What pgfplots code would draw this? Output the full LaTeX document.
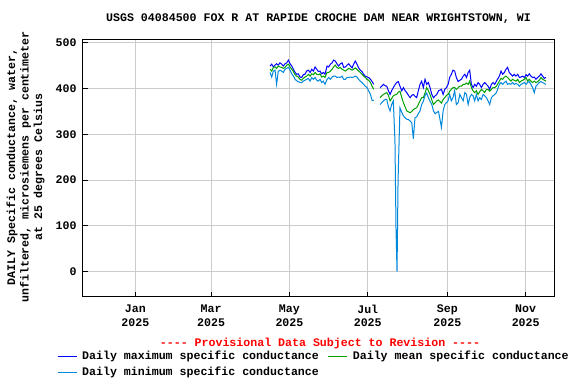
\documentclass[border=0pt]{standalone}
\usepackage{fontspec}
\setmonofont{Liberation Mono}
\usepackage{pgfplots}
\pgfplotsset{compat=1.18}
\usepackage{pgfplotstable}
\definecolor{maxc}{RGB}{0,0,255}
\definecolor{meanc}{RGB}{0,160,0}
\definecolor{minc}{RGB}{0,136,221}
\definecolor{gridc}{RGB}{204,204,204}
\newcommand{\uf}{\ttfamily\bfseries\fontsize{11.6bp}{13.5bp}\selectfont}

\pgfplotstableread{
day val
104.9 449
106.2 453
107.5 447
108.8 451
110.0 454
111.3 451
112.6 456
114.0 453
115.3 449
116.6 454
117.9 456
119.2 462
120.5 454
121.8 449
123.1 442
124.4 435
125.6 431
126.9 432
128.2 425
129.5 424
130.8 430
132.1 431
133.4 438
134.8 440
136.1 435
137.4 442
138.7 438
140.0 447
141.3 442
142.5 437
143.8 438
145.1 432
146.4 435
147.7 431
149.3 449
150.6 447
151.9 453
153.2 456
154.4 462
155.7 460
157.0 454
158.3 449
159.7 454
161.0 456
162.3 446
163.6 447
164.9 451
166.2 454
167.5 449
168.8 445
170.0 453
171.3 460
172.6 453
173.9 445
175.2 440
176.5 437
177.8 431
179.1 427
180.4 425
181.7 424
183.1 420
184.4 415
185.7 409
187.5 nan
190.6 402
191.9 405
193.2 409
194.5 406
195.8 405
197.1 395
198.4 387
199.6 395
200.9 402
202.2 408
203.5 413
204.8 415
206.1 405
207.5 395
208.8 402
210.1 395
211.4 391
212.7 385
214.0 380
215.3 385
216.5 387
217.8 383
219.1 380
220.4 395
221.7 409
223.0 416
224.3 402
225.6 420
226.9 409
228.2 413
229.5 402
230.9 387
232.2 380
233.5 384
234.8 387
236.1 395
238.4 398
239.7 387
241.0 398
242.3 402
243.6 409
244.8 424
246.1 431
247.4 440
248.7 438
250.0 424
251.4 415
252.7 418
254.0 420
255.3 427
256.6 431
257.9 424
259.2 435
260.4 440
261.7 409
263.0 402
264.3 409
265.6 405
266.9 413
268.2 409
269.5 402
270.8 409
272.1 413
273.4 409
274.7 405
276.0 398
277.3 409
278.6 413
279.9 409
281.2 416
283.5 427
284.8 438
286.1 431
287.4 435
288.7 442
289.9 446
291.2 435
292.5 431
293.8 427
295.1 431
296.4 427
297.8 431
299.1 424
300.4 425
301.7 427
303.0 424
304.3 430
305.5 427
306.8 432
308.1 427
309.4 424
310.7 425
312.0 420
313.3 424
314.6 427
315.9 432
317.2 427
318.5 422
319.8 424
}\maxdata

\pgfplotstableread{
day val
104.9 442
106.2 438
107.5 446
108.8 447
110.0 444
111.3 449
112.6 447
114.0 446
115.3 444
116.6 446
117.9 451
119.2 453
120.5 447
121.8 442
123.1 437
124.4 430
125.6 427
126.9 425
128.2 420
129.5 418
130.8 422
132.1 425
133.4 427
134.8 431
136.1 427
137.4 432
138.7 430
140.0 435
141.3 431
142.5 430
143.8 432
145.1 425
146.4 427
147.7 424
149.3 435
150.6 435
151.9 438
153.2 442
154.4 447
155.7 451
157.0 446
158.3 444
159.7 446
161.0 442
162.3 440
163.6 438
164.9 441
166.2 444
167.5 442
168.8 440
170.0 442
171.3 445
172.6 442
173.9 438
175.2 435
176.5 431
177.8 427
179.1 424
180.4 420
181.7 418
183.1 413
184.4 405
185.7 398
187.5 nan
190.6 380
191.9 384
193.2 387
194.5 389
195.8 391
197.1 385
198.4 373
199.6 378
200.9 384
202.2 386
203.5 387
204.8 392
206.1 394
207.5 380
208.8 369
210.1 360
211.4 351
212.7 349
214.0 347
215.3 350
216.5 354
217.8 356
219.1 358
220.4 365
221.7 373
223.0 380
224.3 380
225.6 390
226.9 402
228.2 395
229.5 387
230.9 375
232.2 365
233.5 369
234.8 373
236.1 375
238.4 368
239.7 376
241.0 380
242.3 385
243.6 387
244.8 394
246.1 398
247.4 402
248.7 402
250.0 398
251.4 402
252.7 405
254.0 405
255.3 409
256.6 409
257.9 412
259.2 409
260.4 416
261.7 402
263.0 395
264.3 391
265.6 395
266.9 387
268.2 393
269.5 398
270.8 395
272.1 391
273.4 398
274.7 398
276.0 394
277.3 398
278.6 402
279.9 402
281.2 405
283.5 416
284.8 422
286.1 420
287.4 425
288.7 427
289.9 424
291.2 420
292.5 416
293.8 420
295.1 418
296.4 416
297.8 420
299.1 413
300.4 416
301.7 418
303.0 420
304.3 424
305.5 416
306.8 420
308.1 416
309.4 413
310.7 416
312.0 413
313.3 415
314.6 418
315.9 424
317.2 420
318.5 418
319.8 416
}\meandata

\pgfplotstableread{
day val
104.9 435
106.2 425
107.5 438
108.8 440
110.0 409
111.3 437
112.6 440
114.0 438
115.3 435
116.6 442
117.9 444
119.2 446
120.5 440
121.8 432
123.1 427
124.4 420
125.6 417
126.9 415
128.2 413
129.5 413
130.8 416
132.1 418
133.4 420
134.8 422
136.1 416
137.4 424
138.7 420
140.0 424
141.3 418
142.5 416
143.8 420
145.1 413
146.4 416
147.7 409
149.3 420
150.6 424
151.9 420
153.2 425
154.4 427
155.7 427
157.0 424
158.3 425
159.7 424
161.0 427
162.3 420
163.6 420
164.9 424
166.2 424
167.5 425
168.8 424
170.0 425
171.3 427
172.6 425
173.9 420
175.2 416
176.5 413
177.8 409
179.1 405
180.4 402
181.7 395
183.1 387
184.4 374
185.7 374
187.5 nan
190.6 365
191.9 369
193.2 373
194.5 376
195.8 376
197.1 360
198.4 351
199.6 365
200.9 373
202.2 285
203.0 96
203.8 0
204.6 198
206.1 358
207.5 348
208.8 340
210.1 336
211.4 333
212.7 332
214.0 329
215.3 325
216.5 290
217.8 336
219.1 338
220.4 345
221.7 351
223.0 365
224.3 372
225.6 385
226.9 390
228.2 380
229.5 372
230.9 365
232.2 351
233.5 345
234.8 348
236.1 350
238.4 315
239.7 351
241.0 365
242.3 369
243.6 373
244.8 387
246.1 373
247.4 380
248.7 395
250.0 365
251.4 369
252.7 387
254.0 380
255.3 373
256.6 391
257.9 387
259.2 365
260.4 380
261.7 387
263.0 384
264.3 373
265.6 387
266.9 373
268.2 380
269.5 376
270.8 387
272.1 384
273.4 380
274.7 373
276.0 365
277.3 380
278.6 384
279.9 387
281.2 391
283.5 409
284.8 413
286.1 409
287.4 413
288.7 416
289.9 409
291.2 411
292.5 409
293.8 413
295.1 409
296.4 411
297.8 409
299.1 405
300.4 409
301.7 411
303.0 413
304.3 409
305.5 413
306.8 415
308.1 409
309.4 402
310.7 391
312.0 405
313.3 409
314.6 413
315.9 415
317.2 413
318.5 411
319.8 409
}\mindata

\begin{document}
\begin{tikzpicture}[x=1bp,y=1bp]
\fill[white] (0,0) rectangle (576,384);
\path[use as bounding box] (0,0) rectangle (576,384);
\begin{axis}[
  at={(82.7bp,87.3bp)}, anchor=south west,
  scale only axis, width=471.6bp, height=257.4bp,
  xmin=-41, xmax=326.3, ymin=-54.6, ymax=507.4,
  xtick={0,59,120,181,243,304},
  xticklabels={{Jan\\2025},{Mar\\2025},{May\\2025},{Jul\\2025},{Sep\\2025},{Nov\\2025}},
  ytick={0,100,200,300,400,500},
  grid=major, major grid style={gridc, line width=1bp},
  axis line style={black, line width=1bp},
  tick align=inside, major tick length=5bp, tick style={black, line width=1bp},
  tick pos=left,
  unbounded coords=jump,
  /pgf/number format/assume math mode=true,
  ticklabel style={font=\uf},
  xticklabel style={align=center, inner sep=0pt, anchor=north, yshift=-8bp},
  yticklabel style={inner sep=0pt, anchor=east, xshift=-6bp},
  legend columns=2,
  legend cell align=left,
  legend image code/.code={\draw[#1, line width=1bp] (0bp,0bp) -- (19bp,0bp);},
  legend style={at={(axis description cs:-0.0545,-0.213)}, anchor=north west,
    draw=none, fill=none, inner sep=0pt, font=\uf, row sep=5.5bp,
    nodes={inner sep=0pt, text height=8bp, text depth=2.5bp},
    /tikz/every odd column/.append style={column sep=5bp},
    /tikz/every even column/.append style={column sep=9bp}},
]
\addplot[maxc, line width=1bp] table[x=day, y=val] {\maxdata};
\addlegendentry{Daily maximum specific conductance}
\addplot[meanc, line width=1bp] table[x=day, y=val] {\meandata};
\addlegendentry{Daily mean specific conductance}
\addplot[minc, line width=1bp] table[x=day, y=val] {\mindata};
\addlegendentry{Daily minimum specific conductance}
\end{axis}
\node[font=\uf] at (318.5,365) {USGS 04084500 FOX R AT RAPIDE CROCHE DAM NEAR WRIGHTSTOWN, WI};
\node[font=\uf, text=red] at (320,41) {---- Provisional Data Subject to Revision ----};
\node[font=\uf, rotate=90, align=center] at (25.5,217) {DAILY Specific conductance, water,\\unfiltered, microsiemens per centimeter\\at 25 degrees Celsius};
\end{tikzpicture}
\end{document}
